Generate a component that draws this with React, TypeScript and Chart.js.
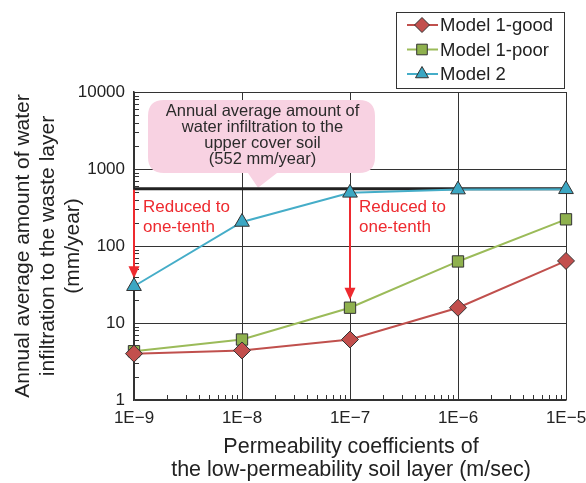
import React, { useEffect, useRef } from 'react';
import { Chart, registerables } from 'chart.js';

Chart.register(...registerables);

// ---- data ----
const permeability = [1e-9, 1e-8, 1e-7, 1e-6, 1e-5];
const xTickLabels = ['1E−9', '1E−8', '1E−7', '1E−6', '1E−5'];
const yTickValues = [1, 10, 100, 1000, 10000];
const model1Good = [4.0, 4.4, 6.1, 15.8, 64];
const model1Poor = [4.3, 6.1, 15.8, 63, 222];
const model2 = [30, 205, 490, 540, 545];
const upperInfiltration = 552;
const seriesNames = ['Model 1-good', 'Model 1-poor', 'Model 2'];
const calloutLines = ['Annual average amount of', 'water infiltration to the', 'upper cover soil', '(552 mm/year)'];
const reducedLines = ['Reduced to', 'one-tenth'];
const yTitleLines = ['Annual average amount of water', 'infiltration to the waste layer', '(mm/year)'];
const xTitleLines = ['Permeability coefficients of', 'the low-permeability soil layer (m/sec)'];

const FONT = '"Liberation Sans", Arial, Helvetica, sans-serif';
const colors = {
  good: { line: '#c0504d', fill: '#c24f4d' },
  poor: { line: '#9bbb59', fill: '#8fb14e' },
  m2: { line: '#45adc8', fill: '#3ca7c3' },
};
const styles = ['rectRot', 'rect', 'triangle'];
const palette = [colors.good, colors.poor, colors.m2];

function drawMarker(ctx: CanvasRenderingContext2D, style: string, x: number, y: number, r: number, fill: string) {
  ctx.beginPath();
  if (style === 'rectRot') {
    ctx.moveTo(x, y - r); ctx.lineTo(x + r, y); ctx.lineTo(x, y + r); ctx.lineTo(x - r, y);
  } else if (style === 'rect') {
    const s = r * Math.SQRT1_2;
    ctx.rect(x - s, y - s, 2 * s, 2 * s);
  } else {
    ctx.moveTo(x, y - r);
    ctx.lineTo(x + Math.sin(2 * Math.PI / 3) * r, y - Math.cos(2 * Math.PI / 3) * r);
    ctx.lineTo(x + Math.sin(4 * Math.PI / 3) * r, y - Math.cos(4 * Math.PI / 3) * r);
  }
  ctx.closePath();
  ctx.fillStyle = fill;
  ctx.fill();
  ctx.strokeStyle = '#333';
  ctx.lineWidth = 1;
  ctx.stroke();
}

const overlay = {
  id: 'overlay',
  beforeDatasetsDraw(chart: any) {
    const { ctx, chartArea: a, scales } = chart;
    const xs = scales.x, ys = scales.y;
    ctx.save();
    // minor ticks
    ctx.strokeStyle = '#333';
    ctx.lineWidth = 1;
    for (let d = 0; d < yTickValues.length - 1; d++) {
      for (let k = 2; k <= 9; k++) {
        const py = Math.round(ys.getPixelForValue(yTickValues[d] * k)) + 0.5;
        ctx.beginPath(); ctx.moveTo(a.left, py); ctx.lineTo(a.left + 5, py); ctx.stroke();
      }
    }
    for (let d = 0; d < permeability.length - 1; d++) {
      for (let k = 2; k <= 9; k++) {
        const px = Math.round(xs.getPixelForValue(permeability[d] * k)) + 0.5;
        ctx.beginPath(); ctx.moveTo(px, a.bottom); ctx.lineTo(px, a.bottom - 5); ctx.stroke();
      }
    }
    const y552 = ys.getPixelForValue(upperInfiltration);
    // callout
    const bx = a.left + 14, by = a.top + 8, bw = 227, bh = 73, r = 16;
    ctx.fillStyle = '#f8d2e2';
    ctx.beginPath();
    ctx.moveTo(bx + r, by);
    ctx.lineTo(bx + bw - r, by);
    ctx.quadraticCurveTo(bx + bw, by, bx + bw, by + r);
    ctx.lineTo(bx + bw, by + bh - r);
    ctx.quadraticCurveTo(bx + bw, by + bh, bx + bw - r, by + bh);
    ctx.lineTo(bx + 129, by + bh);
    ctx.lineTo(bx + 110, y552 - 1);
    ctx.lineTo(bx + 100, by + bh);
    ctx.lineTo(bx + r, by + bh);
    ctx.quadraticCurveTo(bx, by + bh, bx, by + bh - r);
    ctx.lineTo(bx, by + r);
    ctx.quadraticCurveTo(bx, by, bx + r, by);
    ctx.closePath();
    ctx.fill();
    ctx.fillStyle = '#2b2b2b';
    ctx.font = `16.5px ${FONT}`;
    ctx.textAlign = 'center';
    ctx.textBaseline = 'middle';
    calloutLines.forEach((t, i) => ctx.fillText(t, bx + bw / 2 + 1, by + 11 + i * 16));
    // black reference line
    ctx.strokeStyle = '#222';
    ctx.lineWidth = 3;
    ctx.beginPath(); ctx.moveTo(a.left, y552); ctx.lineTo(a.right, y552); ctx.stroke();
    // red arrows
    const red = '#ee2a2f';
    const arrows = [
      { x: xs.getPixelForValue(permeability[0]), tip: ys.getPixelForValue(model2[0]) - 8 },
      { x: xs.getPixelForValue(permeability[2]), tip: ys.getPixelForValue(model1Poor[2]) - 8 },
    ];
    arrows.forEach(({ x, tip }) => {
      ctx.strokeStyle = red;
      ctx.lineWidth = 2;
      ctx.beginPath(); ctx.moveTo(x, y552 + 1); ctx.lineTo(x, tip - 10); ctx.stroke();
      ctx.fillStyle = red;
      ctx.beginPath(); ctx.moveTo(x - 5.5, tip - 12); ctx.lineTo(x + 5.5, tip - 12); ctx.lineTo(x, tip); ctx.closePath(); ctx.fill();
      ctx.font = `17px ${FONT}`;
      ctx.textAlign = 'left';
      ctx.textBaseline = 'middle';
      reducedLines.forEach((t, i) => ctx.fillText(t, x + 9, y552 + 18 + i * 20));
    });
    ctx.restore();
  },
  afterDraw(chart: any) {
    const { ctx, chartArea: a } = chart;
    ctx.save();
    // axis titles
    ctx.fillStyle = '#222';
    ctx.font = `21.5px ${FONT}`;
    ctx.textAlign = 'center';
    ctx.textBaseline = 'middle';
    xTitleLines.forEach((t, i) => ctx.fillText(t, (a.left + a.right) / 2 + 1, a.bottom + 47 + i * 23));
    const cy = (a.top + a.bottom) / 2;
    ctx.font = `21px ${FONT}`;
    yTitleLines.forEach((t, i) => {
      ctx.save();
      ctx.translate(23 + i * 25, cy);
      ctx.rotate(-Math.PI / 2);
      ctx.fillText(t, 0, 0);
      ctx.restore();
    });
    // legend
    const lx = 396, ly = 12, lw = 168, lh = 76;
    ctx.fillStyle = '#fff';
    ctx.fillRect(lx, ly, lw, lh);
    ctx.strokeStyle = '#333';
    ctx.lineWidth = 1;
    ctx.strokeRect(lx + 0.5, ly + 0.5, lw, lh);
    ctx.font = `18.5px ${FONT}`;
    ctx.textAlign = 'left';
    ctx.textBaseline = 'middle';
    seriesNames.forEach((name, i) => {
      const yy = ly + 13 + i * 24.5;
      ctx.strokeStyle = palette[i].line;
      ctx.lineWidth = 2;
      ctx.beginPath(); ctx.moveTo(lx + 11, yy); ctx.lineTo(lx + 42, yy); ctx.stroke();
      drawMarker(ctx, styles[i], lx + 26, yy, 7.5, palette[i].fill);
      ctx.fillStyle = '#222';
      ctx.fillText(name, lx + 44, yy + 1);
    });
    ctx.restore();
  },
};

const isDecadeIdx = (arr: number[], v: number) =>
  arr.findIndex((p) => Math.abs(Math.log10(p) - Math.log10(v)) < 1e-6);

export default function App() {
  const ref = useRef<HTMLCanvasElement>(null);
  useEffect(() => {
    const seriesData = [model1Good, model1Poor, model2];
    const chart = new Chart(ref.current as HTMLCanvasElement, {
      type: 'line',
      data: {
        datasets: seriesData.map((vals, i) => ({
          label: seriesNames[i],
          data: permeability.map((x, j) => ({ x, y: vals[j] })),
          borderColor: palette[i].line,
          backgroundColor: palette[i].fill,
          pointBackgroundColor: palette[i].fill,
          pointBorderColor: '#333',
          pointBorderWidth: 1,
          pointStyle: styles[i] as any,
          pointRadius: i === 0 ? 8.5 : i === 1 ? 8 : 8.5,
          borderWidth: 2,
          tension: 0,
          clip: false as any,
        })),
      },
      options: {
        animation: false,
        responsive: false,
        layout: { padding: { top: 92, right: 20, left: 0, bottom: 0 } },
        plugins: { legend: { display: false }, tooltip: { enabled: false } },
        scales: {
          x: {
            type: 'logarithmic',
            min: permeability[0],
            max: permeability[permeability.length - 1],
            afterBuildTicks: (s: any) => { s.ticks = permeability.map((v) => ({ value: v })); },
            afterFit: (s: any) => { s.height = 83; s.paddingLeft = 0; s.paddingRight = 0; },
            ticks: {
              autoSkip: false,
              maxRotation: 0,
              padding: 8,
              color: '#222',
              font: { family: FONT, size: 17 },
              callback: (v: any) => xTickLabels[isDecadeIdx(permeability, Number(v))] ?? '',
            },
            grid: { color: '#333', lineWidth: 1, drawTicks: false },
            border: { display: true, color: '#333', width: 1.5 },
          },
          y: {
            type: 'logarithmic',
            min: yTickValues[0],
            max: yTickValues[yTickValues.length - 1],
            afterBuildTicks: (s: any) => { s.ticks = yTickValues.map((v) => ({ value: v })); },
            afterFit: (s: any) => { s.width = 134; s.paddingTop = 0; s.paddingBottom = 0; },
            ticks: {
              autoSkip: false,
              padding: 9,
              color: '#222',
              font: { family: FONT, size: 17 },
              callback: (v: any) => String(yTickValues[isDecadeIdx(yTickValues, Number(v))] ?? ''),
            },
            grid: { color: '#333', lineWidth: 1, drawTicks: false },
            border: { display: true, color: '#333', width: 1.5 },
          },
        },
      } as any,
      plugins: [overlay],
    });
    return () => chart.destroy();
  }, []);
  return (
    <div style={{ position: 'absolute', left: 0, top: 0, width: 586, height: 483, background: '#fff' }}>
      <canvas ref={ref} width={586} height={483} style={{ display: 'block' }} />
    </div>
  );
}
